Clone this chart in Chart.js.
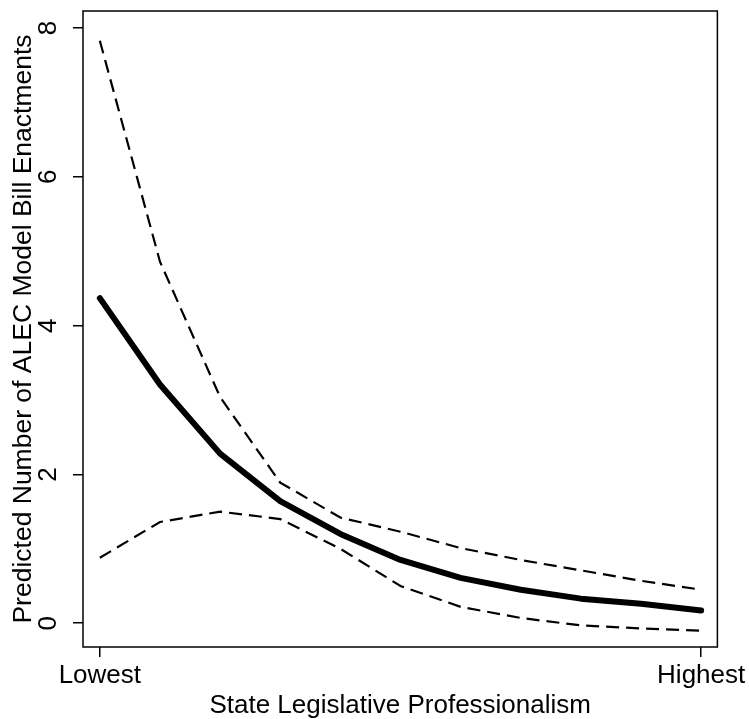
<!DOCTYPE html>
<html>
<head>
<meta charset="utf-8">
<script src="https://cdn.jsdelivr.net/npm/chart.js@4/dist/chart.umd.min.js"></script>
<style>
  html, body { margin: 0; padding: 0; background: #fff; }
  #wrap { width: 749px; height: 719px; }
</style>
</head>
<body>
<div id="wrap"><canvas id="myChart" width="749" height="719"></canvas></div>
<script>
// professionalism steps, lowest to highest
const steps = [0, 1, 2, 3, 4, 5, 6, 7, 8, 9, 10];
const xTickLabels = { 0: 'Lowest', 10: 'Highest' };
const yTicks = [0, 2, 4, 6, 8];

// predicted enactments and confidence band
const predicted = [4.37, 3.21, 2.28, 1.64, 1.20, 0.85, 0.61, 0.45, 0.33, 0.26, 0.17];
const upper = [7.83, 4.86, 3.04, 1.89, 1.42, 1.23, 1.01, 0.85, 0.71, 0.57, 0.45];
const lower = [0.88, 1.36, 1.50, 1.40, 1.00, 0.50, 0.22, 0.07, -0.03, -0.07, -0.10];

const FONT = 'Liberation Sans, Arial, Helvetica, sans-serif';

const toPoints = (arr) => arr.map((v, i) => ({ x: steps[i], y: v }));

// box round the plot area and rotated y tick labels (as R draws them)
const boxAndLabels = {
    id: 'boxAndLabels',
    afterDraw(chart) {
        const { ctx, chartArea, scales } = chart;
        ctx.save();
        ctx.strokeStyle = '#000';
        ctx.lineWidth = 1.5;
        ctx.strokeRect(chartArea.left, chartArea.top,
            chartArea.right - chartArea.left, chartArea.bottom - chartArea.top);

        ctx.fillStyle = '#000';
        ctx.font = '26px ' + FONT;
        ctx.textAlign = 'center';
        ctx.textBaseline = 'middle';
        yTicks.forEach((v) => {
            const y = scales.y.getPixelForValue(v);
            ctx.save();
            ctx.translate(49, y);
            ctx.rotate(-Math.PI / 2);
            ctx.fillText(String(v), 0, 0);
            ctx.restore();
        });
        ctx.restore();
    }
};

const dashed = {
    borderColor: '#000',
    borderWidth: 2.2,
    borderDash: [13, 7],
    pointRadius: 0,
    fill: false,
    tension: 0
};

const config = {
    type: 'line',
    data: {
        datasets: [
            Object.assign({ label: 'upper', data: toPoints(upper) }, dashed),
            Object.assign({ label: 'lower', data: toPoints(lower) }, dashed),
            {
                label: 'predicted',
                data: toPoints(predicted),
                borderColor: '#000',
                borderWidth: 6,
                borderCapStyle: 'round',
                borderJoinStyle: 'round',
                pointRadius: 0,
                fill: false,
                tension: 0
            }
        ]
    },
    options: {
        responsive: false,
        animation: false,
        layout: { padding: { top: 11, right: 30, left: 0, bottom: 0 } },
        plugins: {
            legend: { display: false },
            tooltip: { enabled: false }
        },
        scales: {
            x: {
                type: 'linear',
                min: -0.28,
                max: 10.27,
                afterBuildTicks: (axis) => {
                    axis.ticks = Object.keys(xTickLabels).map((k) => ({ value: Number(k) }));
                },
                afterFit: (axis) => { axis.height = 72; },
                ticks: {
                    callback: (v) => xTickLabels[v],
                    color: '#000',
                    font: { family: FONT, size: 26 },
                    maxRotation: 0,
                    autoSkip: false,
                    padding: 3
                },
                grid: {
                    drawOnChartArea: false,
                    drawTicks: true,
                    tickLength: 10,
                    color: '#000',
                    lineWidth: 1.5
                },
                border: { display: false },
                title: {
                    display: true,
                    text: 'State Legislative Professionalism',
                    color: '#000',
                    font: { family: FONT, size: 26 },
                    padding: { top: 0, bottom: -2 }
                }
            },
            y: {
                min: -0.32,
                max: 8.23,
                afterBuildTicks: (axis) => {
                    axis.ticks = yTicks.map((v) => ({ value: v }));
                },
                afterFit: (axis) => { axis.width = 83; },
                ticks: { display: false },
                grid: {
                    drawOnChartArea: false,
                    drawTicks: true,
                    tickLength: 10,
                    color: '#000',
                    lineWidth: 1.5
                },
                border: { display: false },
                title: {
                    display: true,
                    text: 'Predicted Number of ALEC Model Bill Enactments',
                    color: '#000',
                    font: { family: FONT, size: 26.5 },
                    padding: { top: 8, bottom: 0 }
                }
            }
        }
    },
    plugins: [boxAndLabels]
};

const myChart = new Chart(document.getElementById('myChart'), config);
</script>
</body>
</html>
